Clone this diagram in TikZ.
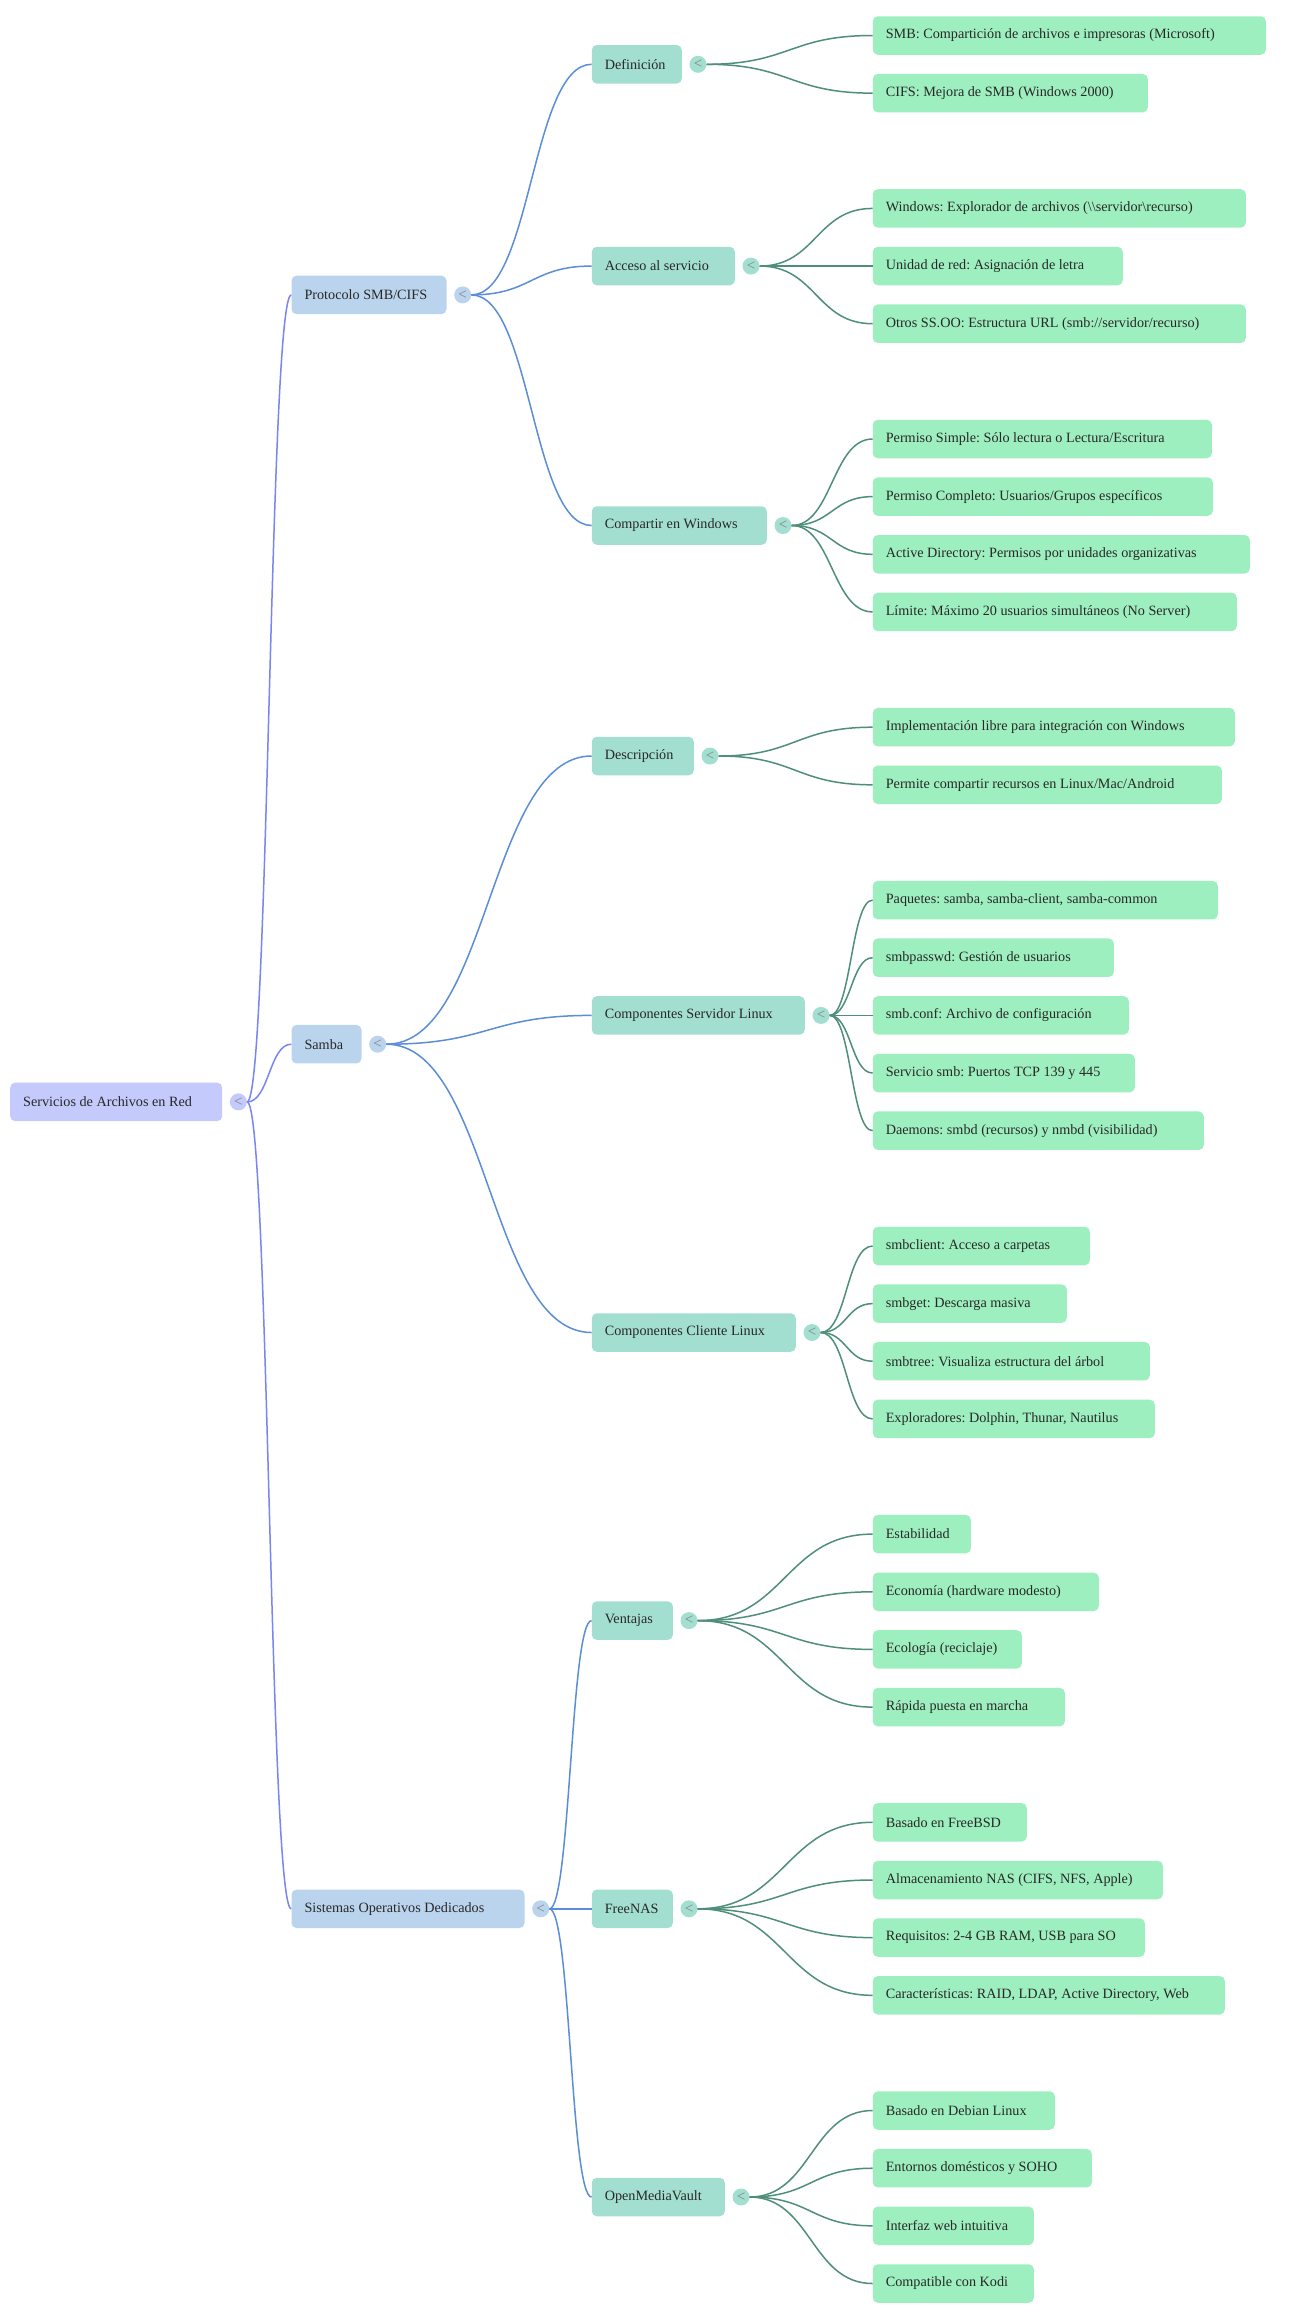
\documentclass[tikz,border=0pt]{standalone}
\usepackage{fontspec}
\setmainfont{Liberation Serif}
\usetikzlibrary{calc}
\frenchspacing
\definecolor{rootc}{RGB}{196,202,251}
\definecolor{lonec}{RGB}{187,212,238}
\definecolor{ltwoc}{RGB}{163,223,208}
\definecolor{leafc}{RGB}{158,239,191}
\definecolor{lineone}{RGB}{122,132,242}
\definecolor{linetwo}{RGB}{91,142,214}
\definecolor{linethree}{RGB}{79,143,122}
\definecolor{txtc}{RGB}{40,40,40}
\newcommand\mmbox[5]{\node[#1] (#2) at (#3) {\makebox[\dimexpr #4pt-26pt\relax][l]{#5}};}
\newcommand\mmtog[2]{\node[togg, fill=#2] (t#1) at ([xshift=16pt]#1.east) {<};}
\begin{document}
\frenchspacing
\begin{tikzpicture}[x=1pt,y=-1pt,
  font=\fontsize{14.2}{16}\selectfont\frenchspacing,
  basebox/.style={rounded corners=5pt, minimum height=38.5pt, inner xsep=13pt, inner ysep=0pt, anchor=west, text=txtc},
  rootbox/.style={basebox, fill=rootc},
  onebox/.style={basebox, fill=lonec},
  twobox/.style={basebox, fill=ltwoc},
  leafbox/.style={basebox, fill=leafc},
  togg/.style={circle, minimum size=17pt, inner sep=0pt, text=black!50, font=\fontsize{15}{15}\selectfont},
  mmcurve/.style={to path={let \p1=(\tikztostart), \p2=(\tikztotarget) in .. controls (0.5*\x1+0.5*\x2,\y1) and (0.5*\x1+0.5*\x2,\y2) .. (\tikztotarget)}},
  cone/.style={draw=lineone, line width=1.5pt},
  ctwo/.style={draw=linetwo, line width=1.5pt},
  cthree/.style={draw=linethree, line width=1.5pt}
]
\useasboundingbox[fill=white] (0,0) rectangle (1300,2319);

% root
\mmbox{rootbox}{root}{10,1101.9}{212}{Servicios de Archivos en Red}
% level 1
\mmbox{onebox}{proto}{291.3,294.9}{155}{Protocolo SMB/CIFS}
\mmbox{onebox}{samba}{291.3,1044.2}{70}{Samba}
\mmbox{onebox}{sod}{291.3,1908.8}{233}{Sistemas Operativos Dedicados}
% level 2
\mmbox{twobox}{defi}{591.6,64.3}{90}{Definición}
\mmbox{twobox}{acce}{591.6,266.06}{143}{Acceso al servicio}
\mmbox{twobox}{comp}{591.6,525.5}{175}{Compartir en Windows}
\mmbox{twobox}{desc}{591.6,756.0}{102}{Descripción}
\mmbox{twobox}{serv}{591.6,1015.4}{213}{Componentes Servidor Linux}
\mmbox{twobox}{clie}{591.6,1332.5}{204}{Componentes Cliente Linux}
\mmbox{twobox}{vent}{591.6,1620.6}{81}{Ventajas}
\mmbox{twobox}{free}{591.6,1908.8}{81}{FreeNAS}
\mmbox{twobox}{omv}{591.6,2197.0}{133}{OpenMediaVault}
% leaves
\mmbox{leafbox}{a1}{872.6,35.5}{393}{SMB: Compartición de archivos e impresoras (Microsoft)}
\mmbox{leafbox}{a2}{872.6,93.14}{275}{CIFS: Mejora de SMB (Windows 2000)}
\mmbox{leafbox}{b1}{872.6,208.42}{373}{Windows: Explorador de archivos (\textbackslash\textbackslash servidor\textbackslash recurso)}
\mmbox{leafbox}{b2}{872.6,266.06}{250}{Unidad de red: Asignación de letra}
\mmbox{leafbox}{b3}{872.6,323.7}{373}{Otros SS.OO: Estructura URL (smb://servidor/recurso)}
\mmbox{leafbox}{c1}{872.6,439.0}{339}{Permiso Simple: Sólo lectura o Lectura/Escritura}
\mmbox{leafbox}{c2}{872.6,496.6}{340}{Permiso Completo: Usuarios/Grupos específicos}
\mmbox{leafbox}{c3}{872.6,554.3}{377}{Active Directory: Permisos por unidades organizativas}
\mmbox{leafbox}{c4}{872.6,611.9}{364}{Límite: Máximo 20 usuarios simultáneos (No Server)}
\mmbox{leafbox}{d1}{872.6,727.2}{362}{Implementación libre para integración con Windows}
\mmbox{leafbox}{d2}{872.6,784.8}{349}{Permite compartir recursos en Linux/Mac/Android}
\mmbox{leafbox}{e1}{872.6,900.1}{345}{Paquetes: samba, samba-client, samba-common}
\mmbox{leafbox}{e2}{872.6,957.7}{241}{smbpasswd: Gestión de usuarios}
\mmbox{leafbox}{e3}{872.6,1015.4}{256}{smb.conf: Archivo de configuración}
\mmbox{leafbox}{e4}{872.6,1073.0}{262}{Servicio smb: Puertos TCP 139 y 445}
\mmbox{leafbox}{e5}{872.6,1130.7}{331}{Daemons: smbd (recursos) y nmbd (visibilidad)}
\mmbox{leafbox}{f1}{872.6,1246.0}{217}{smbclient: Acceso a carpetas}
\mmbox{leafbox}{f2}{872.6,1303.6}{194}{smbget: Descarga masiva}
\mmbox{leafbox}{f3}{872.6,1361.2}{277}{smbtree: Visualiza estructura del árbol}
\mmbox{leafbox}{f4}{872.6,1418.9}{282}{Exploradores: Dolphin, Thunar, Nautilus}
\mmbox{leafbox}{g1}{872.6,1534.1}{98}{Estabilidad}
\mmbox{leafbox}{g2}{872.6,1591.8}{226}{Economía (hardware modesto)}
\mmbox{leafbox}{g3}{872.6,1649.4}{149}{Ecología (reciclaje)}
\mmbox{leafbox}{g4}{872.6,1707.1}{192}{Rápida puesta en marcha}
\mmbox{leafbox}{h1}{872.6,1822.3}{154}{Basado en FreeBSD}
\mmbox{leafbox}{h2}{872.6,1880.0}{290}{Almacenamiento NAS (CIFS, NFS, Apple)}
\mmbox{leafbox}{h3}{872.6,1937.6}{272}{Requisitos: 2-4 GB RAM, USB para SO}
\mmbox{leafbox}{h4}{872.6,1995.3}{352}{Características: RAID, LDAP, Active Directory, Web}
\mmbox{leafbox}{i1}{872.6,2110.5}{182}{Basado en Debian Linux}
\mmbox{leafbox}{i2}{872.6,2168.2}{219}{Entornos domésticos y SOHO}
\mmbox{leafbox}{i3}{872.6,2225.8}{161}{Interfaz web intuitiva}
\mmbox{leafbox}{i4}{872.6,2283.5}{161}{Compatible con Kodi}

% toggles
\mmtog{root}{rootc}
\mmtog{proto}{lonec}
\mmtog{samba}{lonec}
\mmtog{sod}{lonec}
\mmtog{defi}{ltwoc}
\mmtog{acce}{ltwoc}
\mmtog{comp}{ltwoc}
\mmtog{desc}{ltwoc}
\mmtog{serv}{ltwoc}
\mmtog{clie}{ltwoc}
\mmtog{vent}{ltwoc}
\mmtog{free}{ltwoc}
\mmtog{omv}{ltwoc}

% connectors root -> level 1
\foreach \c in {proto,samba,sod}
  \draw[cone] (troot.east) to[mmcurve] (\c.west);
% level 1 -> level 2
\foreach \c in {defi,acce,comp}
  \draw[ctwo] (tproto.east) to[mmcurve] (\c.west);
\foreach \c in {desc,serv,clie}
  \draw[ctwo] (tsamba.east) to[mmcurve] (\c.west);
\foreach \c in {vent,free,omv}
  \draw[ctwo] (tsod.east) to[mmcurve] (\c.west);
% level 2 -> leaves
\foreach \c in {a1,a2}
  \draw[cthree] (tdefi.east) to[mmcurve] (\c.west);
\foreach \c in {b1,b2,b3}
  \draw[cthree] (tacce.east) to[mmcurve] (\c.west);
\foreach \c in {c1,c2,c3,c4}
  \draw[cthree] (tcomp.east) to[mmcurve] (\c.west);
\foreach \c in {d1,d2}
  \draw[cthree] (tdesc.east) to[mmcurve] (\c.west);
\foreach \c in {e1,e2,e3,e4,e5}
  \draw[cthree] (tserv.east) to[mmcurve] (\c.west);
\foreach \c in {f1,f2,f3,f4}
  \draw[cthree] (tclie.east) to[mmcurve] (\c.west);
\foreach \c in {g1,g2,g3,g4}
  \draw[cthree] (tvent.east) to[mmcurve] (\c.west);
\foreach \c in {h1,h2,h3,h4}
  \draw[cthree] (tfree.east) to[mmcurve] (\c.west);
\foreach \c in {i1,i2,i3,i4}
  \draw[cthree] (tomv.east) to[mmcurve] (\c.west);
\end{tikzpicture}
\end{document}
